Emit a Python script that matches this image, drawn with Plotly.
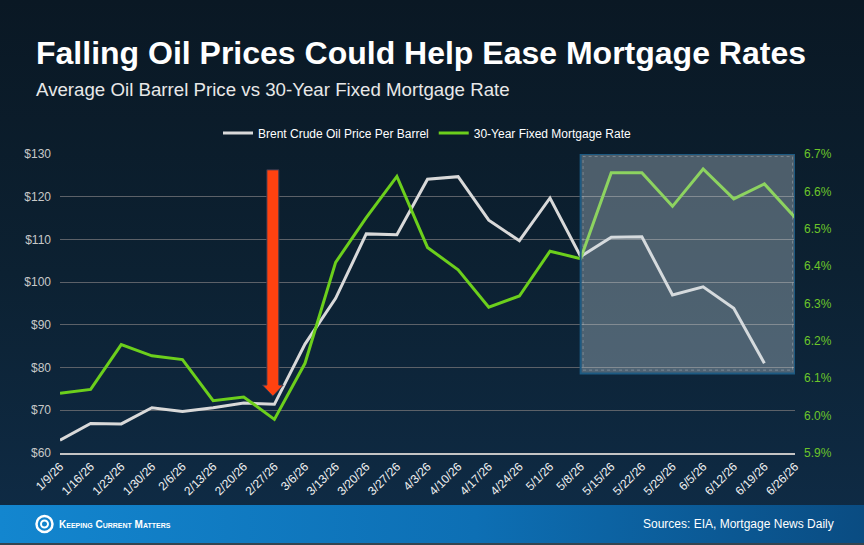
import base64
import plotly.graph_objects as go

# weekly dates on the x axis
dates = ["1/9/26", "1/16/26", "1/23/26", "1/30/26", "2/6/26", "2/13/26", "2/20/26",
         "2/27/26", "3/6/26", "3/13/26", "3/20/26", "3/27/26", "4/3/26", "4/10/26",
         "4/17/26", "4/24/26", "5/1/26", "5/8/26", "5/15/26", "5/22/26", "5/29/26",
         "6/5/26", "6/12/26", "6/19/26", "6/26/26"]

# Brent crude, $ per barrel (no value yet for the last week)
oil_price = [63.0, 66.9, 66.8, 70.6, 69.7, 70.6, 71.7, 71.4, 85.5, 96.2, 111.3, 111.1,
             124.1, 124.7, 114.5, 109.7, 119.7, 106.0, 110.5, 110.6, 97.0, 98.9, 93.9,
             81.0, None]

# 30-year fixed mortgage rate, %
mortgage_rate = [6.06, 6.07, 6.19, 6.16, 6.15, 6.04, 6.05, 5.99, 6.14, 6.41, 6.53, 6.64,
                 6.45, 6.39, 6.29, 6.32, 6.44, 6.42, 6.65, 6.65, 6.56, 6.66, 6.58, 6.62,
                 6.53]

left_ticks = [60, 70, 80, 90, 100, 110, 120, 130]
right_ticks = [5.9, 6.0, 6.1, 6.2, 6.3, 6.4, 6.5, 6.6, 6.7]

W, H = 864, 545
M = dict(l=60, r=69, t=154, b=92)
pw = W - M["l"] - M["r"]
ph = H - M["t"] - M["b"]

FONT = "Liberation Sans, Arial, sans-serif"
WHITE_LINE = "#d9d9d9"
GREEN = "#6ccf1c"

# background + footer band as one svg image
svg = f"""<svg xmlns='http://www.w3.org/2000/svg' width='{W}' height='{H}' viewBox='0 0 {W} {H}'>
<defs>
<linearGradient id='bg' x1='0' y1='0' x2='0' y2='1'>
<stop offset='0' stop-color='#0a1824'/><stop offset='0.5' stop-color='#0c2132'/><stop offset='1' stop-color='#0f2c47'/>
</linearGradient>
<linearGradient id='ft' x1='0' y1='0' x2='1' y2='0'>
<stop offset='0' stop-color='#1386cf'/><stop offset='0.55' stop-color='#0d6fb4'/><stop offset='1' stop-color='#0a4c82'/>
</linearGradient>
</defs>
<rect width='{W}' height='{H}' fill='url(#bg)'/>
<rect y='505' width='{W}' height='38' fill='url(#ft)'/>
<rect y='543' width='{W}' height='2' fill='#34444f'/>
</svg>"""
bg_uri = "data:image/svg+xml;base64," + base64.b64encode(svg.encode()).decode()

x_idx = list(range(len(dates)))

fig = go.Figure()
fig.add_trace(go.Scatter(x=x_idx, y=oil_price, name="Brent Crude Oil Price Per Barrel",
                         mode="lines", line=dict(color=WHITE_LINE, width=3),
                         connectgaps=False))
fig.add_trace(go.Scatter(x=x_idx, y=mortgage_rate, name="30-Year Fixed Mortgage Rate",
                         mode="lines", line=dict(color=GREEN, width=3), yaxis="y2"))

# red arrow pointing at 2/27
ax_x = 6.95
sh = 0.196
hd = 0.34
arrow_path = (f"M {ax_x - sh},126.3 L {ax_x + sh},126.3 L {ax_x + sh},75.9 "
              f"L {ax_x + hd},75.9 L {ax_x},73.3 L {ax_x - hd},75.9 L {ax_x - sh},75.9 Z")

shapes = [
    # highlighted recent weeks
    dict(type="rect", xref="x", yref="y", x0=17, x1=24, y0=78.6, y1=130,
         fillcolor="rgba(205,220,228,0.34)", line=dict(color="#1d5a82", width=2),
         layer="above"),
    dict(type="rect", xref="x", yref="y", x0=17.08, x1=23.92, y0=79.4, y1=129.4,
         fillcolor="rgba(0,0,0,0)", line=dict(color="rgba(255,255,255,0.25)", width=1, dash="dot"),
         layer="above"),
    dict(type="path", xref="x", yref="y", path=arrow_path, fillcolor="#ff4210",
         line=dict(color="#2a3a55", width=1), layer="above"),
    # logo swirl in the footer
    dict(type="circle", xref="paper", yref="paper", xsizemode="pixel", ysizemode="pixel",
         xanchor=(44.5 - M["l"]) / pw, yanchor=(H - M["b"] - 524) / ph,
         x0=-8, x1=8, y0=-8, y1=8, line=dict(color="white", width=2.5),
         fillcolor="rgba(0,0,0,0)", layer="above"),
    dict(type="circle", xref="paper", yref="paper", xsizemode="pixel", ysizemode="pixel",
         xanchor=(44.5 - M["l"]) / pw, yanchor=(H - M["b"] - 524) / ph,
         x0=-3.5, x1=3.5, y0=-3.5, y1=3.5, line=dict(color="white", width=2),
         fillcolor="rgba(0,0,0,0)", layer="above"),
]


def px_x(x):
    return (x - M["l"]) / pw


def px_y(y):
    return (H - M["b"] - y) / ph


annotations = [
    dict(text="<b>Falling Oil Prices Could Help Ease Mortgage Rates</b>", x=px_x(34), y=px_y(53),
         xref="paper", yref="paper", xanchor="left", yanchor="middle", showarrow=False,
         font=dict(family=FONT, size=32, color="white")),
    dict(text="Average Oil Barrel Price vs 30-Year Fixed Mortgage Rate", x=px_x(34), y=px_y(90),
         xref="paper", yref="paper", xanchor="left", yanchor="middle", showarrow=False,
         font=dict(family=FONT, size=18.7, color="#e8e8e8")),
    dict(text="<b>Keeping Current Matters</b>", x=px_x(57), y=px_y(524),
         xref="paper", yref="paper", xanchor="left", yanchor="middle", showarrow=False,
         font=dict(family=FONT, size=10, color="white", variant="small-caps")),
    dict(text="Sources: EIA, Mortgage News Daily", x=px_x(836), y=px_y(524),
         xref="paper", yref="paper", xanchor="right", yanchor="middle", showarrow=False,
         font=dict(family=FONT, size=12, color="white")),
]

fig.update_layout(
    width=W, height=H, margin=M,
    paper_bgcolor="#0c2132", plot_bgcolor="rgba(0,0,0,0)",
    font=dict(family=FONT, color="white"),
    images=[dict(source=bg_uri, xref="paper", yref="paper", x=-M["l"] / pw, y=1 + M["t"] / ph,
                 sizex=W / pw, sizey=H / ph, xanchor="left", yanchor="top",
                 sizing="stretch", layer="below")],
    showlegend=True,
    legend=dict(orientation="h", x=0.5, xanchor="center", y=1 + 21 / ph, yanchor="middle",
                font=dict(family=FONT, size=12, color="white"), bgcolor="rgba(0,0,0,0)",
                itemwidth=30),
    xaxis=dict(range=[0, 24], tickmode="array", tickvals=x_idx, ticktext=dates,
               tickangle=-45, tickfont=dict(size=12, color="#f0f0f0"), showgrid=False,
               zeroline=False, showline=True, linecolor="#c4c4c4", linewidth=2, ticks=""),
    yaxis=dict(range=[60, 130], tickmode="array", tickvals=left_ticks,
               ticktext=[f"${v}" for v in left_ticks],
               tickfont=dict(size=12, color="#c8c8c8"), gridcolor="#5c6168", gridwidth=1,
               zeroline=False, showline=False, ticks="", ticklabelstandoff=8),
    yaxis2=dict(range=[5.9, 6.7], tickmode="array", tickvals=right_ticks,
                ticktext=[f"{v:.1f}%" for v in right_ticks],
                overlaying="y", side="right", showgrid=False, zeroline=False,
                tickfont=dict(size=12, color="#6cc52a"), ticks="", ticklabelstandoff=8),
    shapes=shapes,
    annotations=annotations,
)

fig.write_html("out.html", config={"displayModeBar": False},
               post_script="document.body.style.margin='0';")
